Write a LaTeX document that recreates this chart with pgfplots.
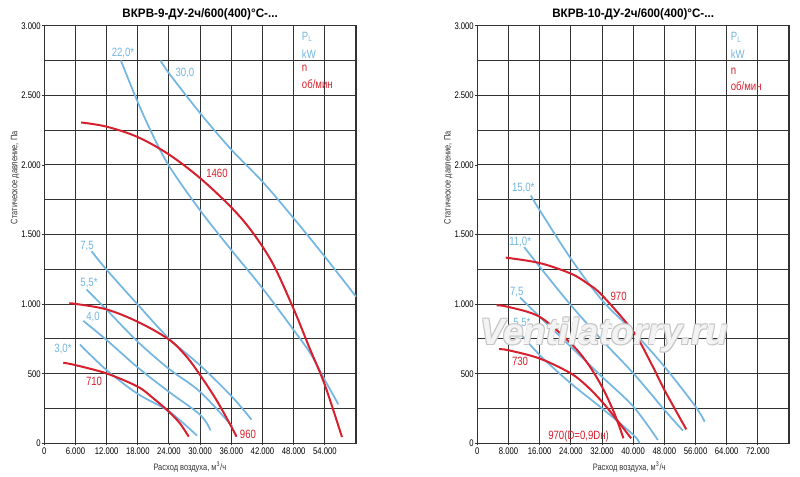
\documentclass[border=0pt]{standalone}
\usepackage{fontspec}
\setmainfont{Liberation Sans}[FakeStretch=0.8]
\newfontfamily\titlefont{Liberation Sans}[FakeStretch=0.95]
\newfontfamily\wmfont{Liberation Sans}
\usepackage{pgfplots}
\pgfplotsset{compat=1.18}
\definecolor{cblue}{RGB}{115,182,225}
\definecolor{cred}{RGB}{214,32,45}
\definecolor{cgrid}{RGB}{50,50,50}

\pgfplotsset{
  myaxis/.style={
    scale only axis, width=233.8pt, height=313.2pt,
    anchor=south west, clip=false,
    xmin=0, ymin=0, ymax=3000,
    ytick={0,500,...,3000}, minor ytick={250,750,...,2750},
    grid=both,
    major grid style={cgrid, line width=0.7pt},
    minor grid style={cgrid, line width=0.7pt},
    axis line style={cgrid, line width=0.9pt},
    tick style={cgrid, line width=0.6pt},
    major tick length=1.5pt, minor tick length=0pt,
    tick align=outside, xtick pos=bottom, ytick pos=left,
    scaled ticks=false,
    /pgf/number format/.cd, 1000 sep={.}, fixed, assume math mode=true,
    /pgfplots/.cd,
    ticklabel style={font=\fontsize{7.2}{8}\selectfont, inner sep=1pt},
    xticklabel style={yshift=-1pt},
  },
  blueline/.style={cblue, line width=1.3pt, smooth, tension=0.55, no marks},
  redline/.style={cred, line width=1.5pt, smooth, tension=0.55, no marks},
}
\tikzset{
  bl/.style={text=cblue, font=\fontsize{9}{10}\selectfont, inner sep=0pt},
  rl/.style={text=cred, font=\fontsize{9}{10}\selectfont, inner sep=0pt},
  ttl/.style={font=\titlefont\bfseries\fontsize{9.2}{10}\selectfont, anchor=base, yshift=6.5pt},
  axl/.style={font=\fontsize{7}{8}\selectfont, text=black!80},
  wm/.style={font=\wmfont\bfseries\itshape\fontsize{27.5}{30}\selectfont},
}

\begin{document}
\begin{tikzpicture}
\useasboundingbox (0,0) rectangle (600pt,357pt);

% ---------------- Left chart ----------------
\begin{axis}[myaxis, at={(33.2pt,24.5pt)}, xmax=60000, xtick={0,6000,...,54000}]
% 30,0
\addplot[blueline] coordinates {(22400,2750) (24000,2659) (30000,2372) (36000,2110) (42000,1880) (48000,1617) (54000,1341) (60000,1054)};
% 22,0*
\addplot[blueline] coordinates {(14750,2750) (17450,2500) (20300,2260) (23900,2000) (29950,1676) (36000,1389) (42000,1114) (48000,814) (51200,647) (54000,455) (56600,280)};
% 7,5
\addplot[blueline] coordinates {(9112,1379) (12000,1247) (18032,995) (24000,753) (30000,560) (36000,340) (39900,170)};
% 5,5*
\addplot[blueline] coordinates {(8141,1105) (12000,960) (18000,730) (24000,535) (30000,370) (36200,122)};
% 4,0
\addplot[blueline] coordinates {(7500,880) (12000,742) (18000,545) (24000,370) (30000,205) (32000,93)};
% 3,0*
\addplot[blueline] coordinates {(6859,710) (12000,526) (18000,355) (24000,230) (29400,55)};
% 1460
\addplot[redline] coordinates {(7100,2305) (12000,2275) (18000,2200) (24000,2075) (30000,1905) (36000,1695) (40000,1520) (44000,1290) (48000,965) (51000,690) (54000,420) (57300,45)};
% 960
\addplot[redline] coordinates {(4808,1005) (6000,1002) (12000,962) (18000,873) (24000,746) (27400,622) (30000,490) (33140,311) (36000,120) (37000,48)};
% 710
\addplot[redline] coordinates {(3654,579) (6000,562) (12000,502) (18000,407) (21000,323) (24000,227) (26100,144) (27800,48)};

\node[bl] at (axis cs:15150,2805) {22,0*};
\node[bl] at (axis cs:27085,2660) {30,0};
\node[rl] at (axis cs:33245,1940) {1460};
\node[bl] at (axis cs:8220,1418) {7,5};
\node[bl] at (axis cs:8605,1152) {5,5*};
\node[bl] at (axis cs:9375,907) {4,0};
\node[bl] at (axis cs:3600,677) {3,0*};
\node[rl] at (axis cs:9587,448) {710};
\node[rl] at (axis cs:39213,67) {960};
\node[bl, anchor=west] at (axis cs:49550,2920) {P\textsubscript{L}};
\node[bl, anchor=west] at (axis cs:49550,2799) {kW};
\node[rl, anchor=west] at (axis cs:49550,2694) {n};
\node[rl, anchor=west] at (axis cs:49550,2583) {об/мин};

\node[ttl] at (rel axis cs:0.5,1) {ВКРВ-9-ДУ-2ч/600(400)°С-...};
\node[axl, rotate=90] at (rel axis cs:-0.094,0.636) {Статическое давление, Па};
\node[axl] at (rel axis cs:0.467,-0.056) {Расход воздуха, м\textsuperscript{3}/ч};
\end{axis}

% ---------------- Right chart ----------------
\begin{axis}[myaxis, at={(358.0pt,24.5pt)}, xmax=80000, xtick={0,8000,...,72000}]
% 15,0*
\addplot[blueline] coordinates {(13728,1780) (16044,1673) (24024,1326) (32003,1028) (40069,801) (48048,550) (56027,263) (58344,155)};
% 11,0*
\addplot[blueline] coordinates {(12012,1410) (16044,1267) (24024,992) (32003,741) (40069,502) (48048,239) (52767,91)};
% 7,5
\addplot[blueline] coordinates {(10982,1047) (16044,908) (24024,693) (32003,478) (40069,263) (46332,24)};
% 5,5*
\addplot[blueline] coordinates {(10296,813) (16044,633) (24024,430) (32003,251) (40069,60) (41613,0)};
% 970
\addplot[redline] coordinates {(7293,1334) (16044,1295) (24024,1219) (28314,1147) (32003,1064) (40069,801) (44616,574) (48048,382) (53625,100)};
% 970 (D=0,9Dн)
\addplot[redline] coordinates {(4976,992) (7979,980) (16044,908) (24024,717) (28314,574) (32003,406) (35178,215) (37495,36)};
% 730
\addplot[redline] coordinates {(5577,676) (7979,669) (16044,609) (24024,502) (28314,406) (32003,299) (35178,191) (39468,36)};

\node[bl] at (axis cs:11780,1834) {15,0*};
\node[bl] at (axis cs:11000,1448) {11,0*};
\node[bl] at (axis cs:10134,1089) {7,5};
\node[bl] at (axis cs:11420,862) {5,5*};
\node[rl] at (axis cs:36270,1053) {970};
\node[rl] at (axis cs:10957,586) {730};
\node[rl] at (axis cs:25980,52) {970(D=0,9Dн)};
\node[bl, anchor=west] at (axis cs:65000,2916) {P\textsubscript{L}};
\node[bl, anchor=west] at (axis cs:65000,2794) {kW};
\node[rl, anchor=west] at (axis cs:65000,2670) {n};
\node[rl, anchor=west] at (axis cs:65000,2567) {об/мин};

% watermark
\node[wm, text=gray!45, xshift=0.5pt, yshift=0.5pt] at (axis cs:32590,778) {Ventilatorry.ru};
\node[wm, text=gray!45, xshift=-0.5pt, yshift=0.5pt] at (axis cs:32590,778) {Ventilatorry.ru};
\node[wm, text=gray!45, xshift=0.5pt, yshift=-0.5pt] at (axis cs:32590,778) {Ventilatorry.ru};
\node[wm, text=gray!45, xshift=-0.5pt, yshift=-0.5pt] at (axis cs:32590,778) {Ventilatorry.ru};
\node[wm, text=white, text opacity=0.8] at (axis cs:32590,778) {Ventilatorry.ru};

\node[ttl] at (rel axis cs:0.5,1) {ВКРВ-10-ДУ-2ч/600(400)°С-...};
\node[axl, rotate=90] at (rel axis cs:-0.093,0.636) {Статическое давление, Па};
\node[axl] at (rel axis cs:0.487,-0.056) {Расход воздуха, м\textsuperscript{3}/ч};
\end{axis}
\end{tikzpicture}
\end{document}
